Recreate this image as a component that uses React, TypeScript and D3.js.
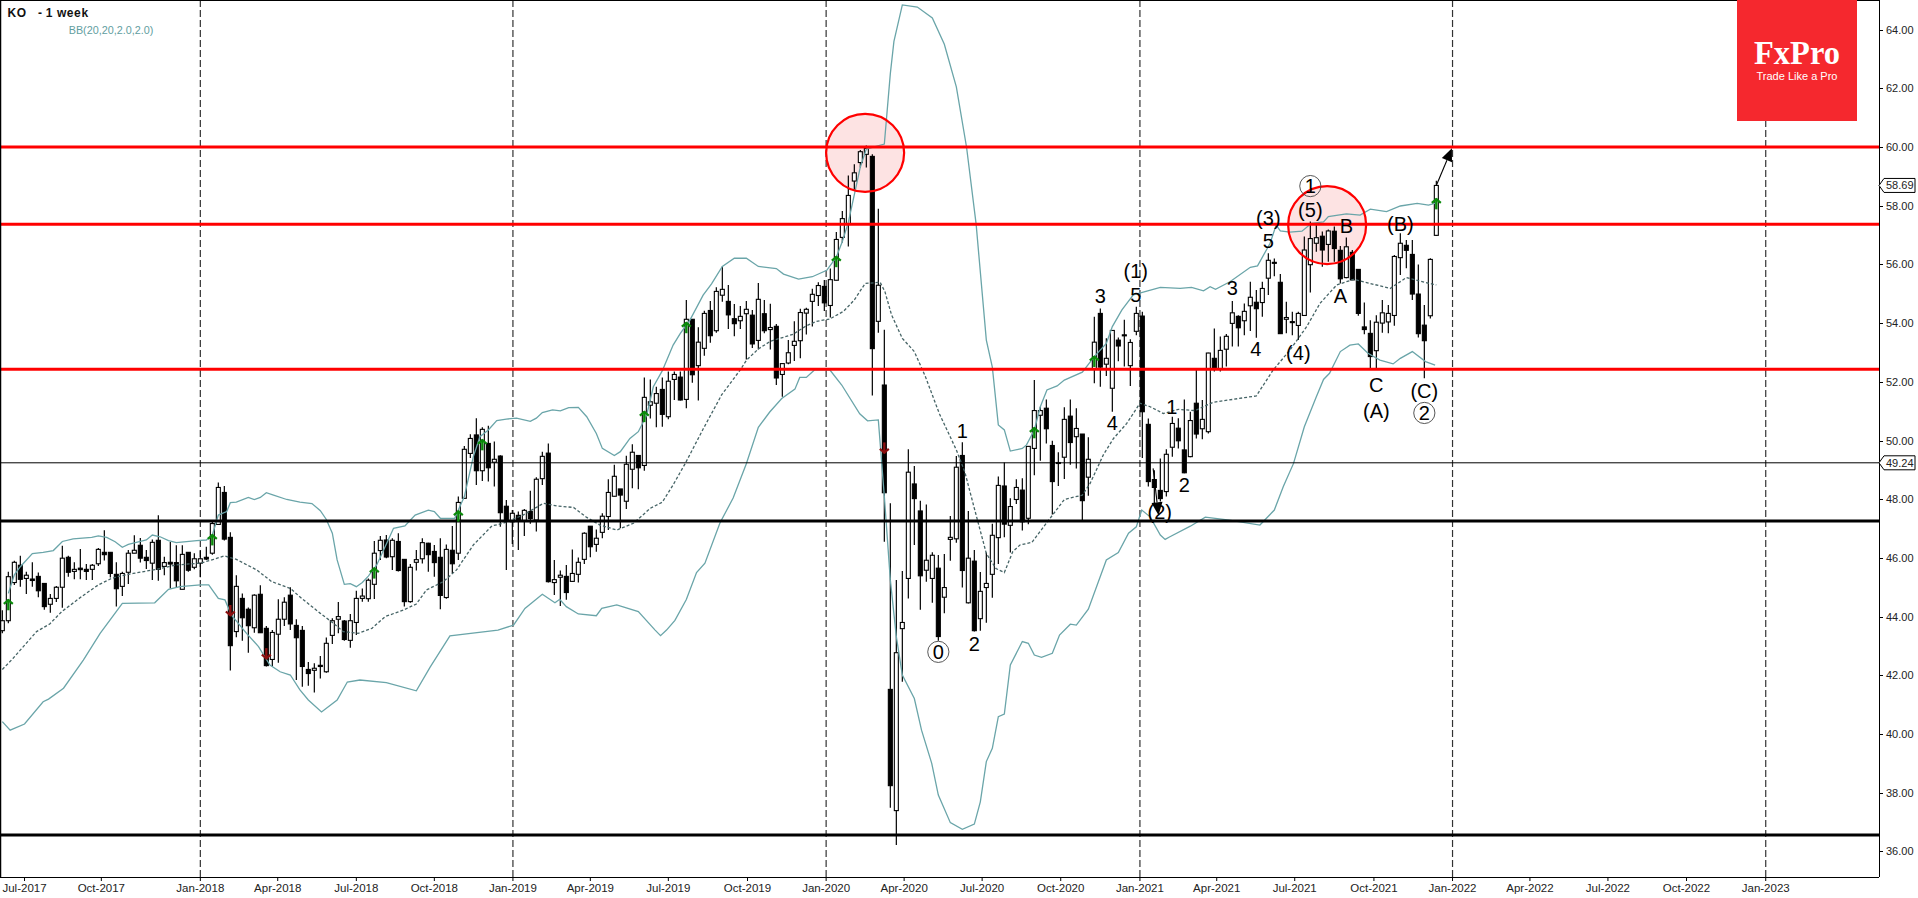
import { useEffect, useRef } from "react";
import * as d3 from "d3";

const W = 1918;
const H = 898;

// weekly candles as [open, high, low, close]
const candles2017 = [
  [43.52,44.22,43.43,43.86],[43.86,45.53,43.77,45.36],[45.16,45.90,45.08,45.85],[45.75,46.07,45.02,45.27],
  [45.30,45.53,44.77,45.41],[45.28,45.85,45.02,45.23],[45.37,45.50,44.66,44.88],[45.13,45.13,44.23,44.34],
  [44.42,44.77,44.13,44.62],[44.62,45.04,44.50,45.00],[45.00,46.41,44.30,45.99],[46.02,46.07,45.36,45.51],
  [45.54,45.85,45.27,45.61],[45.65,46.30,45.27,45.60],[45.61,45.79,45.25,45.54],[45.61,45.79,45.25,45.75],
  [45.80,46.34,45.72,46.29],[46.19,46.94,45.91,46.11],[46.19,46.19,45.33,45.47],[45.44,45.85,44.34,44.95],
  [45.03,45.53,44.70,45.47],[45.51,46.27,45.11,46.16],[46.16,46.77,46.16,46.26],[46.43,46.68,45.84,45.99],
  [46.02,46.27,45.62,45.91],[45.82,46.63,45.25,46.53],[46.60,47.45,45.22,45.61],[45.71,46.04,45.41,45.84],
  [45.85,46.54,44.96,45.79],[45.84,46.43,44.99,45.22],[44.93,46.43,44.93,46.12],[46.19,46.19,45.53,45.58],
  [45.68,46.16,45.61,45.97],
];
const candles2018 = [
  [45.82,46.25,45.34,45.97],[46.02,46.38,45.93,45.96],[46.16,47.23,46.11,47.17],[47.14,48.57,47.12,48.40],
  [48.23,48.45,46.59,46.64],[46.70,46.87,42.16,43.01],[43.49,45.41,43.30,45.03],[44.62,44.79,43.18,43.96],
  [44.25,44.31,42.77,43.69],[43.62,44.76,43.45,44.73],[44.76,45.07,43.45,43.45],[43.60,43.68,42.30,42.33],
  [42.54,43.54,42.30,43.46],[43.40,44.59,42.43,43.91],[43.91,44.66,43.68,44.49],[44.73,45.00,43.54,43.75],
  [43.70,43.91,41.84,43.28],[43.53,43.68,41.61,42.30],[42.20,42.45,41.64,42.06],[42.17,42.41,41.41,42.24],
  [42.34,42.66,41.89,42.30],[42.12,43.29,42.09,43.09],[43.36,43.94,43.07,43.86],[43.91,44.50,43.43,44.00],
  [43.85,43.88,43.18,43.22],[43.19,44.09,42.94,43.86],[43.80,44.88,43.37,44.62],[44.62,44.96,44.51,44.70],
  [44.61,45.30,44.51,45.24],[45.10,46.58,44.60,46.16],[46.25,46.75,45.93,46.60],[46.61,46.78,45.99,46.03],
  [46.04,46.67,45.59,46.60],[46.56,46.84,45.54,45.57],[45.95,45.95,44.34,44.51],[44.51,45.79,44.47,45.68],
  [45.85,46.27,45.57,45.94],[45.97,46.67,45.81,46.52],[46.50,46.52,45.53,46.11],[46.22,46.44,45.36,45.84],
  [46.02,46.67,44.25,44.72],[44.65,46.46,44.61,46.29],[46.26,47.09,45.47,45.80],[46.16,48.09,45.93,47.89],
  [48.03,49.81,48.02,49.70],[49.56,50.21,49.40,50.07],[50.19,50.76,48.48,48.97],[48.97,50.45,48.62,50.38],
  [49.90,50.50,48.60,49.07],[49.26,49.97,48.43,49.36],[49.47,49.50,47.06,47.54],[47.76,47.97,45.59,47.27],
];
const candles2019 = [
  [47.23,47.63,46.47,47.52],[47.45,47.58,46.27,47.29],[47.27,47.67,46.75,47.62],[47.58,48.29,47.16,47.34],
  [47.29,48.75,46.90,48.68],[48.70,49.62,48.48,49.46],[49.57,49.90,45.16,45.19],[45.16,45.93,44.74,45.26],
  [45.34,45.57,44.36,45.41],[45.37,45.76,44.57,44.82],[45.20,46.29,45.19,45.47],[45.44,46.01,45.16,45.85],
  [45.95,46.87,45.79,46.84],[47.08,47.08,46.02,46.38],[46.46,46.97,46.21,46.67],[46.87,47.52,46.67,47.42],
  [47.41,48.68,46.95,48.23],[48.10,49.17,48.09,48.78],[48.35,48.35,47.01,48.14],[47.93,49.48,47.67,49.19],
  [49.02,49.87,48.37,49.60],[49.49,49.50,48.34,49.07],[49.15,52.15,48.97,51.47],[51.20,52.08,50.75,51.32],
  [51.27,51.83,50.45,51.60],[51.74,52.15,50.47,50.89],[50.81,52.35,50.72,52.02],[52.08,52.35,51.38,52.25],
  [52.16,52.35,51.36,51.38],[51.40,54.79,51.10,54.13],[54.13,54.13,51.97,52.24],[52.55,53.86,51.36,53.35],
  [53.14,54.42,52.89,54.33],[54.43,54.75,53.33,53.57],[53.74,55.22,53.67,55.08],[54.95,55.93,54.73,55.15],
  [54.74,55.30,53.80,54.28],[54.15,54.65,53.55,53.98],[54.08,54.58,53.80,54.23],[54.32,54.75,52.76,54.47],
  [54.27,54.45,53.15,53.29],[53.41,55.37,53.10,54.81],[54.32,54.79,53.65,53.74],[53.78,54.66,53.10,53.85],
  [53.89,53.97,51.89,52.13],[52.25,52.62,51.49,52.62],[52.64,53.42,52.60,52.99],[53.24,54.06,52.71,53.38],
  [53.40,54.49,52.80,54.36],[54.34,54.52,53.61,54.47],[54.74,55.17,53.88,54.98],[54.94,55.39,54.58,55.28],
];
const candles2020 = [
  [55.25,55.47,54.41,54.69],[54.60,55.86,54.19,55.48],[55.46,57.10,55.46,56.85],[56.92,57.82,56.75,57.56],
  [57.36,59.03,56.61,58.35],[58.84,59.41,58.54,59.12],[59.47,59.90,59.30,59.84],[59.75,60.05,59.30,59.95],
  [59.68,59.75,51.53,53.13],[54.06,57.90,53.67,55.29],[51.89,53.77,46.55,48.22],[41.52,47.86,37.49,38.24],
  [37.39,45.25,36.22,42.77],[43.59,45.55,41.78,43.80],[45.30,49.70,44.62,48.92],[48.52,49.13,46.44,48.02],
  [47.60,47.95,44.23,45.39],[45.58,47.82,45.19,45.92],[45.30,46.19,44.47,46.09],[45.65,46.10,43.18,43.32],
  [44.66,46.13,44.11,44.99],[46.63,47.43,45.90,46.70],[46.65,49.47,46.52,49.09],[49.49,49.94,44.99,45.57],
  [44.47,47.60,44.45,45.99],[45.89,46.27,43.49,43.52],[43.93,45.52,43.52,44.86],[44.99,46.18,43.79,45.13],
  [45.44,47.16,44.64,46.77],[46.69,48.77,45.79,48.47],[48.45,49.25,46.70,47.15],[47.11,48.03,46.18,47.75],
  [47.99,48.68,47.84,48.40],[48.31,48.71,46.93,47.23],[47.35,49.80,47.15,49.80],[49.73,52.06,48.82,51.02],
  [50.86,51.15,49.31,51.02],[51.10,51.40,49.90,50.40],[49.83,49.99,47.48,48.60],[49.25,49.60,48.45,49.22],
  [49.43,51.13,48.69,50.72],[50.83,51.40,49.17,49.93],[50.13,51.10,49.05,50.41],[50.22,50.22,47.29,47.95],
  [48.75,50.11,48.12,49.36],[52.44,54.22,51.95,53.35],[54.33,54.50,51.83,52.50],[52.60,53.48,52.20,52.80],
  [51.78,53.75,50.98,53.75],[53.42,53.51,52.70,53.22],[53.60,54.11,52.52,53.58],[52.55,53.45,51.86,53.34],
  [53.72,54.56,53.59,54.33],
];
const candles2021 = [
  [54.24,54.39,49.40,50.98],[50.55,50.75,48.43,48.60],[48.67,48.99,47.85,48.40],[48.30,49.39,47.92,48.02],
  [48.26,49.70,48.09,49.53],[49.77,50.81,49.45,50.58],[50.42,50.76,49.73,49.99],[49.68,51.40,48.88,48.90],
  [49.45,50.98,49.43,50.68],[51.27,52.40,50.07,50.22],[50.40,51.38,50.04,50.72],[50.30,52.99,50.24,52.98],
  [52.80,53.82,52.35,52.46],[52.45,53.54,52.35,53.07],[53.11,53.63,52.52,53.55],[53.99,54.75,53.20,54.35],
  [54.23,54.27,53.20,53.84],[54.08,54.67,53.59,54.40],[54.59,55.41,53.73,54.88],[54.71,55.13,53.50,54.49],
  [54.70,55.41,54.22,55.18],[55.53,56.38,54.96,56.14],[56.07,56.20,55.60,56.05],[55.39,55.67,53.64,53.64],
  [54.13,54.73,53.65,54.19],[54.05,54.39,53.59,54.02],[53.92,54.39,53.42,54.33],[54.26,56.95,54.25,56.49],
  [55.99,57.46,55.04,56.88],[56.72,57.34,56.43,56.91],[56.96,57.12,55.92,56.49],[56.68,57.19,56.09,57.14],
  [57.13,57.29,56.09,56.54],[56.48,56.63,55.35,55.51],[55.55,56.92,55.53,56.60],[56.41,56.49,55.47,55.47],
  [55.83,55.83,54.25,54.33],[53.87,54.70,53.62,53.78],[53.65,54.10,52.46,52.86],[53.06,54.27,52.44,54.03],
  [54.00,54.79,53.67,54.35],[54.04,54.62,53.65,54.33],[54.26,56.32,53.91,56.27],[56.23,57.06,55.64,56.72],
  [56.65,56.83,55.87,56.48],[56.34,56.83,54.79,54.99],[54.99,56.00,53.51,53.64],[53.93,54.62,52.12,53.40],
  [54.25,56.21,54.16,56.17],[56.99,58.85,56.97,58.69],
];
const candles = [...candles2017, ...candles2018, ...candles2019, ...candles2020, ...candles2021];

// Bollinger bands as [bar, price]
const bbUpper = [
  [1,44.79],[2,45.42],[3,45.70],[5,46.15],[6.8,46.19],[8.5,46.25],[10,46.56],[11.8,46.65],[14.9,46.70],[16,46.75],
  [17.4,46.70],[18.8,46.55],[20,46.36],[21,46.46],[23,46.56],[24,46.61],[25,46.78],[26.3,46.72],[27.7,46.59],[29,46.52],
  [32.4,46.59],[34,46.61],[35,46.78],[36,47.46],[37.4,47.58],[38,47.88],[39,47.90],[41,48.06],[42,47.99],[43,48.06],
  [44,48.22],[45.2,48.14],[47.4,47.99],[49.6,47.90],[51.6,47.85],[53,47.61],[54,47.31],[55,46.84],[55.8,45.93],[57,45.10],
  [58,45.12],[59,45.02],[60,45.16],[61,45.38],[62.4,45.76],[63.8,46.38],[65.2,47.01],[67.1,47.09],[68.8,47.46],[71,47.63],
  [72,47.58],[73,47.35],[75.4,47.35],[76,47.63],[77,48.09],[78.5,49.45],[79.6,50.13],[81,50.36],[82.4,50.68],[84,50.73],
  [85.7,50.76],[88,50.65],[89,50.76],[90,50.95],[91.7,51.04],[93,51.01],[94.4,51.12],[96,51.13],[97.4,50.81],[99,50.24],
  [100,49.73],[102,49.49],[103,49.62],[104.6,50.07],[106,50.30],[107.4,50.87],[108.5,51.83],[110,52.38],[111.8,53.25],[113,53.65],
  [114.6,54.10],[116.8,54.95],[118.2,55.34],[120,55.93],[122,56.21],[124,56.21],[126,55.93],[129,55.86],[130.2,55.67],[132.7,55.50],
  [135,55.58],[137.4,55.80],[139,56.25],[140,56.78],[141,57.43],[143,59.32],[144,59.93],[147,60.10],[148,62.50],[148.6,63.60],
  [150,64.84],[152.5,64.77],[155,64.40],[157,63.50],[159,62.05],[160.7,60.00],[162.3,57.37],[164,53.42],[165,52.50],[166,50.53],
  [167,50.36],[168,49.64],[170,49.73],[170.7,49.85],[172,50.36],[173,51.15],[174.1,51.72],[175.8,51.86],[177,52.06],[180,52.33],
  [182,52.86],[184,53.31],[185,53.88],[186.6,54.45],[188.5,54.96],[190,55.05],[193,55.22],[196.3,55.18],[198.2,55.22],[200.2,55.10],
  [201.3,55.24],[202.2,55.15],[204.6,55.41],[208,55.90],[209.2,55.95],[211.3,56.72],[212.3,57.34],[213,57.14],[214.6,57.10],[216.6,57.13],
  [218.2,57.40],[220.2,57.45],[221,57.63],[224,57.72],[226.3,57.68],[228,57.88],[230.7,57.80],[233,57.99],[235.8,58.08],[237.7,58.02],
  [239,58.10],
];
const bbMiddle = [
  [0,42.20],[1.8,42.58],[5.7,43.49],[7.9,43.75],[9.9,44.17],[13.2,44.68],[16,45.08],[18.2,45.30],[19.6,45.38],[21.8,45.47],
  [25.7,45.61],[29,45.76],[33,45.82],[35.2,45.95],[37,46.07],[39,45.95],[42.4,45.59],[44.9,45.19],[48,44.96],[49.9,44.62],
  [53,44.11],[55.2,43.77],[56.8,43.49],[59.3,43.43],[61.6,43.60],[63.8,44.00],[66.8,44.22],[69,44.43],[70.7,44.91],[73.5,45.19],
  [75.7,45.59],[78.5,46.44],[81.6,47.09],[83.5,47.18],[86.8,47.46],[90.2,47.86],[92.4,47.77],[95.2,47.72],[97.4,47.38],[99.6,47.12],
  [102.4,46.95],[105.2,47.18],[108,47.69],[110,47.90],[111.8,48.49],[113.8,49.21],[116.8,50.39],[119.9,51.56],[123,52.41],[124,52.73],
  [126,53.12],[128,53.38],[131.8,53.62],[134,53.91],[135.7,54.06],[137.9,54.14],[140.2,54.40],[142,54.79],[143.8,55.35],[146.3,55.39],
  [147.1,55.07],[148.2,54.28],[150,53.48],[152,53.03],[153.8,52.20],[156.2,50.90],[159,49.68],[160.4,48.94],[162,47.69],[164,46.15],
  [165.6,45.64],[167,45.50],[168.4,46.21],[169.6,46.44],[171.6,46.53],[174,47.18],[177,47.99],[180,48.14],[181.3,48.54],[183.5,49.51],
  [185.2,50.07],[187.4,50.58],[189.6,51.27],[191.3,51.15],[193.5,50.92],[196,51.06],[198.8,51.02],[201.8,51.30],[209,51.52],[211.8,52.40],
  [214.6,53.08],[217.4,53.88],[219.6,54.67],[222.4,55.30],[225.2,55.49],[228,55.35],[231.3,55.18],[234,55.55],[238.5,55.32],[239,55.30],
];
const bbLower = [
  [0,40.42],[1.3,40.13],[3.7,40.34],[6.8,41.10],[7.7,41.19],[10.2,41.56],[13.5,42.52],[16.3,43.43],[20,44.45],[25.4,44.47],
  [27.7,44.93],[29.6,45.02],[33,45.08],[34.4,45.08],[36,44.62],[37.1,44.57],[38.2,44.05],[40.7,43.43],[42.7,42.98],[44.6,42.35],
  [46.3,42.12],[48,42.01],[49.6,41.50],[51,41.16],[53.2,40.75],[55.8,41.16],[57.5,41.77],[59.6,41.84],[64,41.75],[69,41.47],
  [71.3,42.28],[74.6,43.34],[82.6,43.54],[85.2,43.71],[87.1,44.28],[90,44.76],[92.1,44.47],[92.9,44.59],[94,44.34],[96,44.09],
  [99,44.03],[99.9,44.28],[102.4,44.40],[106,44.17],[108.8,43.54],[109.7,43.35],[110.7,43.54],[112.1,43.87],[114,44.58],[115.7,45.50],
  [117.1,45.82],[119.6,47.19],[121.8,48.04],[124,49.21],[126,50.45],[127.9,50.97],[129.9,51.43],[132.1,51.75],[132.9,52.15],[134,52.15],
  [135.4,52.41],[137.9,52.41],[139.9,51.89],[142.9,50.91],[144.2,50.67],[146,50.70],[147,48.09],[148,45.25],[149,43.32],[150,42.01],
  [152,41.21],[153.2,40.13],[154.9,39.00],[156,37.92],[158,36.98],[160,36.75],[162,36.93],[163,37.69],[164,39.06],[165,39.51],
  [166,40.59],[167,40.68],[168,42.35],[170,43.15],[171,43.09],[172,42.69],[173.2,42.61],[175,42.75],[176.2,43.37],[178,43.74],
  [179,43.71],[181,44.25],[184,45.93],[186,46.18],[187.7,46.84],[189,47.06],[189.9,47.63],[191.3,47.40],[193,46.78],[193.8,46.63],
  [194.6,46.72],[198,47.08],[200.5,47.39],[204.5,47.29],[209.6,47.12],[212,47.63],[213.5,48.43],[215.2,49.22],[217,50.47],[219,51.49],
  [220.2,52.08],[221.2,52.29],[223,53.03],[224.6,53.25],[226,53.29],[227.6,52.97],[229.6,52.74],[231.8,52.61],[233,52.80],[235,53.03],
  [237.2,52.69],[238.8,52.57],
];

const redLevels = [60.0, 57.37, 52.43];
const blackLevels = [47.26, 36.56];
const lastLevels = [58.69, 49.24];
const priceTicks = [36, 38, 40, 42, 44, 46, 48, 50, 52, 54, 56, 58, 60, 62, 64];

const timeLabels = [
  "Jul-2017","Oct-2017","Jan-2018","Apr-2018","Jul-2018","Oct-2018","Jan-2019","Apr-2019","Jul-2019","Oct-2019",
  "Jan-2020","Apr-2020","Jul-2020","Oct-2020","Jan-2021","Apr-2021","Jul-2021","Oct-2021","Jan-2022","Apr-2022",
  "Jul-2022","Oct-2022","Jan-2023",
];
const timeBars = [
  3.7,16.5,33,45.9,59,72,85.1,98,111,124.2,
  137.3,150.3,163.3,176.4,189.6,202.4,215.4,228.6,241.7,254.6,
  267.6,280.7,293.9,
];

const upSignals = [[1,44.59],[35,46.80],[62,45.67],[76,47.61],[80,50.04],[107,51.0],[114,54.03],[139,56.28],[172,50.45],[182,52.88],[239,58.25]];
const downSignals = [[38,44.02],[44,42.55],[147,49.56]];

const waveLabels: [number, number, string][] = [
  [188.9,55.54,"(1)"],[188.9,54.72,"5"],[183,54.70,"3"],[205,54.96,"3"],[194.9,50.89,"1"],[197,48.25,"2"],
  [192.9,47.33,"(2)"],[208.9,52.88,"4"],[216,52.74,"(4)"],[211,56.55,"5"],[211,57.34,"(3)"],[218,57.60,"(5)"],
  [224,57.06,"B"],[223,54.70,"A"],[233,57.14,"(B)"],[229,51.66,"C"],[229,50.78,"(A)"],[237,51.46,"(C)"],
  [160,50.07,"1"],[162,42.84,"2"],[185,50.36,"4"],
];
const circledLabels: [number, number, string][] = [
  [218,58.43,"1"],[237,50.70,"2"],[156,42.56,"0"],
];
const highlightCircles = [[143.8,59.8],[220.8,57.34]];
const trendArrows = [
  [[239,58.69],[241.6,59.96]],
  [[191.8,49.05],[192.7,47.45]],
];

export default function App() {
  const svgRef = useRef<SVGSVGElement>(null);

  useEffect(() => {
    if (!svgRef.current) return;
    const svg = d3.select(svgRef.current);
    svg.selectAll("*").remove();

    const axisX = 1879;
    const axisY = 877;
    const font = "'Liberation Sans', Arial, sans-serif";

    const x = d3.scaleLinear().domain([0, 313]).range([2.33, 1880.33]);
    const y = d3.scaleLinear().domain([36, 64]).range([851.4, 29.6]);

    svg.append("rect").attr("width", W).attr("height", H).attr("fill", "#fff");

    // highlight discs go under the candles
    svg.selectAll(".disc")
      .data(highlightCircles)
      .join("circle")
      .attr("cx", (d) => x(d[0]))
      .attr("cy", (d) => y(d[1]))
      .attr("r", 39)
      .attr("fill", "#fde3e3");

    // year separators
    const janBars = timeBars.filter((_, i) => timeLabels[i].startsWith("Jan"));
    svg.selectAll(".sep")
      .data(janBars)
      .join("line")
      .attr("x1", (d) => x(d))
      .attr("x2", (d) => x(d))
      .attr("y1", 0)
      .attr("y2", axisY)
      .attr("stroke", "#333")
      .attr("stroke-width", 1.2)
      .attr("stroke-dasharray", "7,3");

    // wicks + bodies
    const bar = svg.append("g");
    candles.forEach(([o, h, l, c], i) => {
      const up = c >= o;
      bar.append("line")
        .attr("x1", x(i)).attr("x2", x(i))
        .attr("y1", y(h)).attr("y2", y(l))
        .attr("stroke", "#000").attr("stroke-width", 1.2);
      bar.append("rect")
        .attr("x", x(i) - 2)
        .attr("width", 4)
        .attr("y", y(Math.max(o, c)))
        .attr("height", Math.max(Math.abs(y(o) - y(c)), 1))
        .attr("fill", up ? "#fff" : "#000")
        .attr("stroke", "#000")
        .attr("stroke-width", 1.1);
    });

    // bands
    const bandLine = d3.line<number[]>().x((d) => x(d[0])).y((d) => y(d[1]));
    [bbUpper, bbLower].forEach((band) => {
      svg.append("path")
        .attr("d", bandLine(band))
        .attr("fill", "none")
        .attr("stroke", "#6aa5a9")
        .attr("stroke-width", 1.3);
    });
    svg.append("path")
      .attr("d", bandLine(bbMiddle))
      .attr("fill", "none")
      .attr("stroke", "#466466")
      .attr("stroke-width", 1.3)
      .attr("stroke-dasharray", "3,2");

    // horizontal levels
    const level = (v: number, color: string, w: number) =>
      svg.append("line")
        .attr("x1", 0).attr("x2", axisX)
        .attr("y1", y(v)).attr("y2", y(v))
        .attr("stroke", color).attr("stroke-width", w);
    level(49.24, "#000", 1);
    blackLevels.forEach((v) => level(v, "#000", 3));
    redLevels.forEach((v) => level(v, "#ff0000", 3));

    // highlight rings sit on the levels
    svg.selectAll(".ring")
      .data(highlightCircles)
      .join("circle")
      .attr("cx", (d) => x(d[0]))
      .attr("cy", (d) => y(d[1]))
      .attr("r", 39)
      .attr("fill", "none")
      .attr("stroke", "#ff0000")
      .attr("stroke-width", 2.2);

    // buy / sell signals
    const signal = (bx: number, p: number, dir: number, color: string) => {
      const tx = x(bx);
      const ty = y(p);
      const g = svg.append("g").attr("stroke", color).attr("fill", "none");
      g.append("line")
        .attr("x1", tx).attr("x2", tx)
        .attr("y1", ty).attr("y2", ty + dir * 11)
        .attr("stroke-width", 2.4);
      g.append("polyline")
        .attr("points", `${tx - 4.5},${ty + dir * 4.5} ${tx},${ty + dir * 0.8} ${tx + 4.5},${ty + dir * 4.5}`)
        .attr("stroke-width", 2.2);
    };
    upSignals.forEach(([b, p]) => signal(b, p, 1, "#0a8a0a"));
    downSignals.forEach(([b, p]) => signal(b, p, -1, "#8b1010"));

    // trend arrows
    trendArrows.forEach(([from, to]) => {
      const x1 = x(from[0]), y1 = y(from[1]), x2 = x(to[0]), y2 = y(to[1]);
      const a = Math.atan2(y2 - y1, x2 - x1);
      const len = 13;
      const wing = 5.5;
      const bx = x2 - len * Math.cos(a);
      const by = y2 - len * Math.sin(a);
      svg.append("line")
        .attr("x1", x1).attr("y1", y1).attr("x2", bx).attr("y2", by)
        .attr("stroke", "#000").attr("stroke-width", 1.1);
      svg.append("polygon")
        .attr("points", [
          [x2, y2],
          [bx + wing * Math.sin(a), by - wing * Math.cos(a)],
          [bx - wing * Math.sin(a), by + wing * Math.cos(a)],
        ].join(" "))
        .attr("fill", "#000");
    });

    // elliott wave labels
    svg.selectAll(".wave")
      .data(waveLabels)
      .join("text")
      .attr("x", (d) => x(d[0]))
      .attr("y", (d) => y(d[1]))
      .attr("text-anchor", "middle")
      .attr("font-family", font)
      .attr("font-size", 20)
      .attr("fill", "#000")
      .text((d) => d[2]);
    circledLabels.forEach(([b, p, t]) => {
      svg.append("circle")
        .attr("cx", x(b)).attr("cy", y(p) - 7)
        .attr("r", 10.6)
        .attr("fill", "none")
        .attr("stroke", "#444").attr("stroke-width", 0.9);
      svg.append("text")
        .attr("x", x(b)).attr("y", y(p))
        .attr("text-anchor", "middle")
        .attr("font-family", font)
        .attr("font-size", 20)
        .attr("fill", "#000")
        .text(t);
    });

    // frame + axes
    svg.append("line").attr("x1", 0).attr("x2", axisX).attr("y1", 0.5).attr("y2", 0.5).attr("stroke", "#000");
    svg.append("line").attr("x1", 0.5).attr("x2", 0.5).attr("y1", 0).attr("y2", axisY).attr("stroke", "#000").attr("stroke-width", 1.5);
    svg.append("line").attr("x1", 0).attr("x2", axisX).attr("y1", axisY + 0.5).attr("y2", axisY + 0.5).attr("stroke", "#000");
    svg.append("line").attr("x1", axisX + 0.5).attr("x2", axisX + 0.5).attr("y1", 0).attr("y2", axisY).attr("stroke", "#000");

    const rightAxis = svg.append("g");
    priceTicks.forEach((p) => {
      rightAxis.append("line")
        .attr("x1", axisX).attr("x2", axisX + 4)
        .attr("y1", Math.round(y(p)) + 0.5).attr("y2", Math.round(y(p)) + 0.5)
        .attr("stroke", "#000");
      rightAxis.append("text")
        .attr("x", axisX + 7)
        .attr("y", y(p) + 4)
        .attr("font-family", font)
        .attr("font-size", 11)
        .attr("fill", "#222")
        .text(p.toFixed(2));
    });
    lastLevels.forEach((p) => {
      const ty = y(p);
      rightAxis.append("polygon")
        .attr("points", `${axisX},${ty} ${axisX + 5},${ty - 7} ${axisX + 36},${ty - 7} ${axisX + 36},${ty + 7} ${axisX + 5},${ty + 7}`)
        .attr("fill", "#fff").attr("stroke", "#000");
      rightAxis.append("text")
        .attr("x", axisX + 7)
        .attr("y", ty + 4)
        .attr("font-family", font)
        .attr("font-size", 11)
        .attr("fill", "#222")
        .text(p.toFixed(2));
    });

    timeBars.forEach((b, i) => {
      svg.append("line")
        .attr("x1", x(b)).attr("x2", x(b))
        .attr("y1", axisY).attr("y2", axisY + 4)
        .attr("stroke", "#000");
      svg.append("text")
        .attr("x", x(b))
        .attr("y", axisY + 15)
        .attr("text-anchor", "middle")
        .attr("font-family", font)
        .attr("font-size", 11.5)
        .attr("fill", "#222")
        .text(timeLabels[i]);
    });

    // title
    svg.append("text").attr("x", 7.5).attr("y", 17).attr("font-family", font).attr("font-size", 12)
      .attr("font-weight", "bold").attr("letter-spacing", 0.6).attr("fill", "#111").text("KO");
    svg.append("text").attr("x", 38).attr("y", 17).attr("font-family", font).attr("font-size", 12)
      .attr("font-weight", "bold").attr("fill", "#111").text("-");
    svg.append("text").attr("x", 45.7).attr("y", 17).attr("font-family", font).attr("font-size", 12)
      .attr("font-weight", "bold").attr("letter-spacing", 0.6).attr("fill", "#111").text("1 week");
    svg.append("text").attr("x", 68.7).attr("y", 34).attr("font-family", font).attr("font-size", 10.8)
      .attr("fill", "#5f9ea0").text("BB(20,20,2.0,2.0)");

    // logo
    svg.append("rect").attr("x", 1737).attr("y", 0).attr("width", 120).attr("height", 121).attr("fill", "#f5282e");
    svg.append("text").attr("x", 1797).attr("y", 64).attr("text-anchor", "middle")
      .attr("font-family", "'Liberation Serif', serif").attr("font-size", 34).attr("font-weight", "bold")
      .attr("textLength", 86).attr("lengthAdjust", "spacingAndGlyphs").attr("fill", "#fff").text("FxPro");
    svg.append("text").attr("x", 1797).attr("y", 80).attr("text-anchor", "middle")
      .attr("font-family", font).attr("font-size", 11).attr("fill", "#fff").text("Trade Like a Pro");
  }, []);

  return (
    <div style={{ position: "absolute", left: 0, top: 0 }}>
      <svg ref={svgRef} width={W} height={H} style={{ display: "block" }} />
    </div>
  );
}
